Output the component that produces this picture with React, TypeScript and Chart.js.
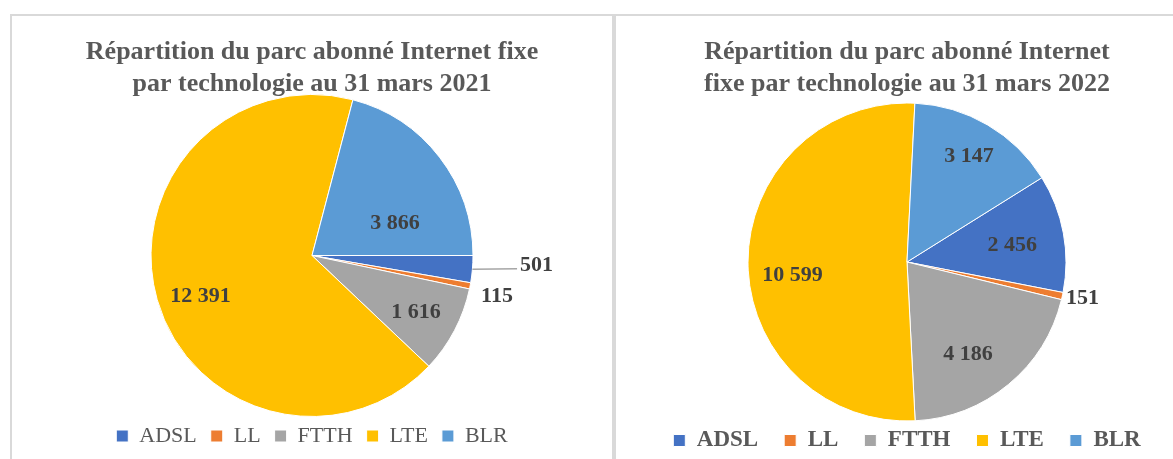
import React, { useEffect, useRef } from 'react';
import { Chart, registerables } from 'chart.js';

Chart.register(...registerables);

// ---- data ----
const categories = ['ADSL', 'LL', 'FTTH', 'LTE', 'BLR'];
const values2021 = [501, 115, 1616, 12391, 3866];
const values2022 = [2456, 151, 4186, 10599, 3147];
const title2021 = ['Répartition du parc abonné Internet fixe', 'par technologie au 31 mars 2021'];
const title2022 = ['Répartition du parc abonné Internet', 'fixe par technologie au 31 mars 2022'];

// ---- styles ----
const sliceColors = ['#4472C4', '#ED7D31', '#A5A5A5', '#FFC000', '#5B9BD5'];
const FONT = "'Liberation Serif', 'Times New Roman', serif";

type Place = { r: number; dx: number; dy: number; leader?: boolean };

const place2021: Place[] = [
  { r: 1.4, dx: 0, dy: -9, leader: true },
  { r: 1.17, dx: 0, dy: 5 },
  { r: 0.73, dx: 0, dy: 2 },
  { r: 0.74, dx: 3, dy: 8 },
  { r: 0.55, dx: 13, dy: 22 },
];
const place2022: Place[] = [
  { r: 0.66, dx: 2, dy: 2 },
  { r: 1.13, dx: 0, dy: -2 },
  { r: 0.7, dx: -10, dy: 7 },
  { r: 0.72, dx: 0, dy: 13 },
  { r: 0.77, dx: 0, dy: 0 },
];

const fmt = (v: number) => String(v).replace(/\B(?=(\d{3})+(?!\d))/g, ' ');

const sliceLabels = {
  id: 'sliceLabels',
  afterDatasetsDraw(chart: any, _args: any, opts: any) {
    const meta = chart.getDatasetMeta(0);
    const ds = chart.data.datasets[0];
    const ctx = chart.ctx as CanvasRenderingContext2D;
    ctx.save();
    ctx.font = `bold ${opts.size}px ${FONT}`;
    ctx.fillStyle = opts.color;
    ctx.textAlign = 'center';
    ctx.textBaseline = 'middle';
    meta.data.forEach((arc: any, i: number) => {
      const p = arc.getProps(['x', 'y', 'startAngle', 'endAngle', 'outerRadius'], true);
      const mid = (p.startAngle + p.endAngle) / 2;
      const pl: Place = opts.placement[i];
      const rr = p.outerRadius * pl.r;
      const lx = p.x + Math.cos(mid) * rr + pl.dx;
      const ly = p.y + Math.sin(mid) * rr + pl.dy;
      const text = fmt(ds.data[i]);
      if (pl.leader) {
        const ex = p.x + Math.cos(mid) * p.outerRadius;
        const ey = p.y + Math.sin(mid) * p.outerRadius;
        const w = ctx.measureText(text).width;
        ctx.strokeStyle = '#A6A6A6';
        ctx.lineWidth = 1.5;
        ctx.beginPath();
        ctx.moveTo(ex, ey);
        ctx.lineTo(lx - w / 2 - 3, ly + 3);
        ctx.stroke();
      }
      ctx.fillText(text, lx, ly);
    });
    ctx.restore();
  },
};

function makeConfig(
  values: number[],
  title: string[],
  rotation: number,
  radius: number,
  titlePadBottom: number,
  legendFont: any,
  legendPad: number,
  placement: Place[]
): any {
  return {
    type: 'pie',
    data: {
      labels: categories,
      datasets: [
        {
          data: values,
          backgroundColor: sliceColors,
          borderColor: '#ffffff',
          borderWidth: 1,
          radius,
          hoverOffset: 0,
          offset: 0,
          clip: false,
        },
      ],
    },
    options: {
      responsive: false,
      animation: false,
      events: [],
      rotation,
      layout: { padding: 0 },
      plugins: {
        title: {
          display: true,
          text: title,
          color: '#595959',
          font: { family: FONT, size: 26, weight: 'bold', lineHeight: 32 / 26 },
          padding: { top: 20, bottom: titlePadBottom },
        },
        legend: {
          display: true,
          position: 'bottom',
          labels: {
            boxWidth: 12,
            boxHeight: 12,
            padding: legendPad,
            color: '#595959',
            font: legendFont,
          },
        },
        tooltip: { enabled: false },
        sliceLabels: { size: 22, color: '#404040', placement },
      },
    },
    plugins: [sliceLabels],
  };
}

export default function App() {
  const leftRef = useRef<HTMLCanvasElement>(null);
  const rightRef = useRef<HTMLCanvasElement>(null);

  useEffect(() => {
    const c1 = new Chart(
      leftRef.current!,
      makeConfig(values2021, title2021, 90, 161, 0, { family: FONT, size: 22, weight: 'normal' }, 14, place2021)
    );
    const c2 = new Chart(
      rightRef.current!,
      makeConfig(values2022, title2022, 58, 159, 21, { family: FONT, size: 23, weight: 'bold' }, 26, place2022)
    );
    return () => {
      c1.destroy();
      c2.destroy();
    };
  }, []);

  return (
    <div
      style={{
        position: 'fixed',
        left: 0,
        top: 0,
        width: 1173,
        height: 459,
        overflow: 'hidden',
        background: '#ffffff',
      }}
    >
      <div
        style={{
          position: 'absolute',
          left: 10,
          top: 14,
          width: 600,
          height: 480,
          border: '2px solid #D9D9D9',
        }}
      />
      <div
        style={{
          position: 'absolute',
          left: 614,
          top: 14,
          width: 600,
          height: 480,
          border: '2px solid #D9D9D9',
        }}
      />
      <canvas
        ref={leftRef}
        width={600}
        height={441}
        style={{ position: 'absolute', left: 12, top: 16, width: 600, height: 441 }}
      />
      <canvas
        ref={rightRef}
        width={582}
        height={446}
        style={{ position: 'absolute', left: 616, top: 16, width: 582, height: 446 }}
      />
    </div>
  );
}
